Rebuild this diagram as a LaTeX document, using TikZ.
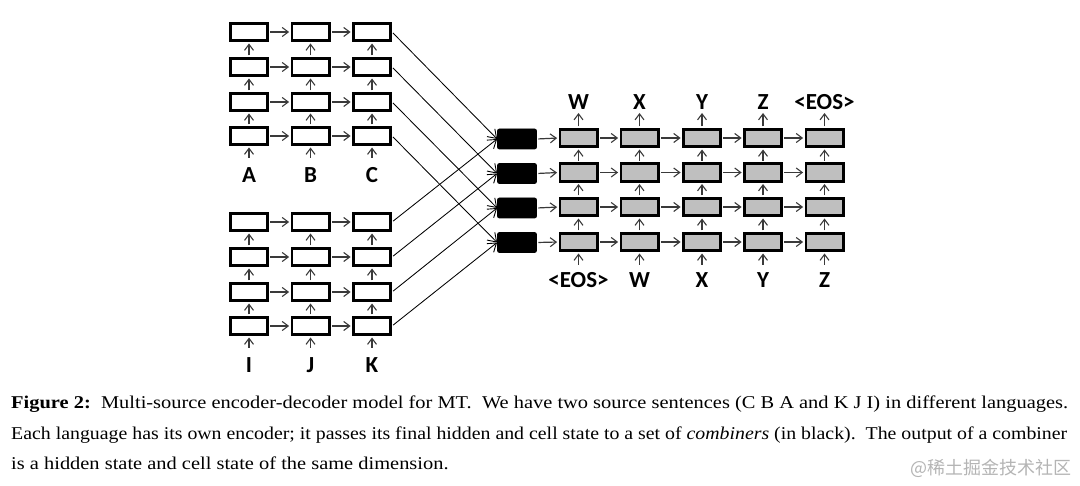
\documentclass[tikz,border=0pt]{standalone}
\usepackage{fontspec}
\usepackage{graphicx}
\setmainfont{Liberation Serif}
\newfontfamily\lblfont{Carlito}
\newfontfamily\cjkfont{Noto Sans CJK SC}
\usetikzlibrary{arrows.meta}
\definecolor{arrgray}{HTML}{3A3A3A}
\definecolor{decgray}{HTML}{BFBFBF}
\definecolor{wmgray}{HTML}{B4B4B4}
\newsavebox\capboxA
\newdimen\capw
\begin{document}
\sbox\capboxA{\fontsize{18}{30}\selectfont\textbf{Figure 2:}\ \ Multi-source encoder-decoder model for MT.\ \ We have two source sentences (C B A and K J I) in different languages.}%
\capw=\wd\capboxA
\pgfmathsetmacro\capsc{1057/\capw}%
\begin{tikzpicture}[x=1pt,y=-1pt,
  cell/.style={draw=black, line width=2.8pt, minimum width=37.2pt, minimum height=17.4pt, inner sep=0pt, fill=white},
  deccell/.style={cell, fill=decgray},
  comb/.style={draw=black, fill=black, line width=0.8pt, rounded corners=2pt, minimum width=39pt, minimum height=20pt, inner sep=0pt},
  arr/.style={draw=arrgray, line width=1.2pt, shorten >=1.4pt, shorten <=1.4pt, -{Straight Barb[length=6pt,width=9pt,line width=1.1pt]}},
  link/.style={draw=black, line width=0.85pt, shorten <=1.4pt, -{Straight Barb[length=8pt,width=11pt,line width=0.9pt]}},
  lbl/.style={font=\lblfont\bfseries\fontsize{23}{25}\selectfont, inner sep=0pt, anchor=base},
  captext/.style={font=\fontsize{18}{30}\selectfont, inner sep=0pt, anchor=base west}
]
\useasboundingbox (0,0) rectangle (1080,486);

% top encoder
\foreach \r/\y in {1/32,2/67,3/102,4/136}{
  \foreach \c/\x in {1/249,2/310.5,3/372}{
    \node[cell] (t\c\r) at (\x,\y) {};
  }
}
% bottom encoder
\foreach \r/\y in {1/222,2/257,3/292,4/326}{
  \foreach \c/\x in {1/249,2/310.5,3/372}{
    \node[cell] (b\c\r) at (\x,\y) {};
  }
}
% combiners
\foreach \r/\y in {1/139,2/173.5,3/208,4/242.5}{
  \node[comb] (m\r) at (517,\y) {};
}
% decoder
\foreach \r/\y in {1/138,2/172.5,3/207,4/242}{
  \foreach \c/\x in {1/578.5,2/639.5,3/702,4/763,5/824.5}{
    \node[deccell] (d\c\r) at (\x,\y) {};
  }
}

% encoder internal arrows
\foreach \p in {t,b}{
  \foreach \c in {1,2,3}{
    \foreach \r/\rr in {1/2,2/3,3/4}{
      \draw[arr] (\p\c\rr.north) -- (\p\c\r.south);
    }
  }
  \foreach \r in {1,2,3,4}{
    \foreach \c/\cc in {1/2,2/3}{
      \draw[arr] (\p\c\r.east) -- (\p\cc\r.west);
    }
  }
}
% decoder internal arrows
\foreach \c in {1,...,5}{
  \foreach \r/\rr in {1/2,2/3,3/4}{
    \draw[arr] (d\c\rr.north) -- (d\c\r.south);
  }
}
\foreach \r in {1,2,3,4}{
  \foreach \c/\cc in {1/2,2/3,3/4,4/5}{
    \draw[arr] (d\c\r.east) -- (d\cc\r.west);
  }
  \draw[arr] (m\r.east) -- (d1\r.west);
}

% encoder to combiner links
\foreach \r in {1,2,3,4}{
  \draw[link] (t3\r.east) -- (m\r.west);
  \draw[link] (b3\r.east) -- (m\r.west);
}

% labels and input arrows
\foreach \c/\x/\t in {1/249/A,2/310.5/B,3/372/C}{
  \node[lbl] (la\c) at (\x,183) {\t};
  \coordinate (ia\c) at (\x,159);
  \draw[arr] (ia\c) -- (t\c4.south);
}
\foreach \c/\x/\t in {1/249/I,2/310.5/J,3/372/K}{
  \node[lbl] (lb\c) at (\x,373) {\t};
  \coordinate (ib\c) at (\x,349);
  \draw[arr] (ib\c) -- (b\c4.south);
}
\foreach \c/\x/\t in {1/578.5/W,2/639.5/X,3/702/Y,4/763/Z,5/824.5/{<EOS>}}{
  \node[lbl] (lo\c) at (\x,110) {\t};
  \coordinate (oc\c) at (\x,113);
  \draw[arr, shorten >=0pt] (d\c1.north) -- (oc\c);
}
\foreach \c/\x/\t in {1/578.5/{<EOS>},2/639.5/W,3/702/X,4/763/Y,5/824.5/Z}{
  \node[lbl] (li\c) at (\x,288) {\t};
  \coordinate (ic\c) at (\x,266);
  \draw[arr] (ic\c) -- (d\c4.south);
}

% caption
\node[captext] (cap1) at (11,409) {\scalebox{\capsc}[1]{\usebox\capboxA}};
\node[captext] (cap2) at (11,439.5) {\resizebox{1056pt}{\height}{Each language has its own encoder; it passes its final hidden and cell state to a set of \textit{combiners} (in black).\ \ The output of a combiner}};
\node[captext] (cap3) at (11,469) {\scalebox{\capsc}[1]{is a hidden state and cell state of the same dimension.}};
\node[font=\cjkfont\fontsize{18}{20}\selectfont, text=wmgray, inner sep=0pt, anchor=east] (wm) at (1072,468) {@稀土掘金技术社区};
\end{tikzpicture}
\end{document}
